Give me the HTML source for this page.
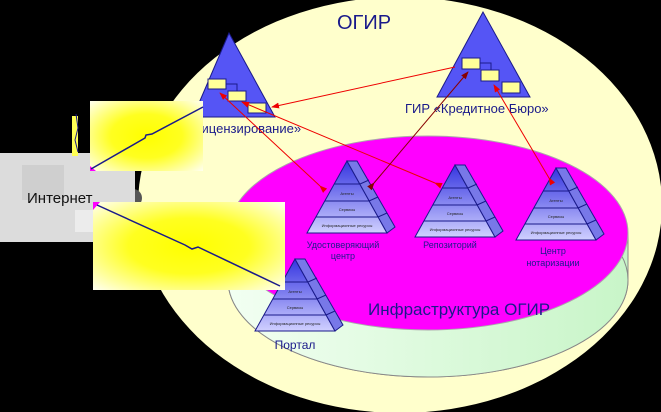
<!DOCTYPE html>
<html><head><meta charset="utf-8"><style>
html,body{margin:0;padding:0;background:#000;width:661px;height:412px;overflow:hidden}
svg{display:block}
text{font-family:"Liberation Sans",sans-serif}
</style></head><body>
<svg width="661" height="412" viewBox="0 0 661 412" xmlns="http://www.w3.org/2000/svg">
<defs>
<linearGradient id="cyl" x1="0" y1="0" x2="1" y2="0">
<stop offset="0" stop-color="#f2fff2"/><stop offset="1" stop-color="#c8f5c8"/></linearGradient>
<radialGradient id="yel" cx="0.5" cy="0.5" r="0.7">
<stop offset="0" stop-color="#ffff00"/><stop offset="0.45" stop-color="#ffff20"/><stop offset="1" stop-color="#ffffee"/></radialGradient>
<linearGradient id="pyr" x1="0" y1="0" x2="0" y2="1">
<stop offset="0" stop-color="#3535e0"/><stop offset="1" stop-color="#d0d0ff"/></linearGradient>
<g id="pyramid">
<polygon points="0,0 -40,72 40,72" fill="url(#pyr)" stroke="#1a1a8a" stroke-width="1"/>
<polygon points="0,0 40,72 48,66 10,0" fill="#7878e8" stroke="#1a1a8a" stroke-width="1"/>
<line x1="-13" y1="23" x2="13" y2="23" stroke="#1a1a8a"/>
<line x1="-22" y1="40" x2="22" y2="40" stroke="#1a1a8a"/>
<line x1="-31" y1="56" x2="31" y2="56" stroke="#1a1a8a"/>
<line x1="13" y1="23" x2="22" y2="19" stroke="#1a1a8a"/>
<line x1="22" y1="40" x2="31" y2="36" stroke="#1a1a8a"/>
<line x1="31" y1="56" x2="40" y2="52" stroke="#1a1a8a"/>
<text x="0" y="34" font-size="4" text-anchor="middle" fill="#222">Агенты</text>
<text x="0" y="50" font-size="4" text-anchor="middle" fill="#222">Сервисы</text>
<text x="0" y="66" font-size="4" text-anchor="middle" fill="#222">Информационные ресурсы</text>
</g>
<marker id="ar" markerWidth="8" markerHeight="8" refX="7" refY="4" orient="auto"><path d="M0,1 L8,4 L0,7z" fill="#e00"/></marker>
<marker id="ad" markerWidth="8" markerHeight="8" refX="7" refY="4" orient="auto"><path d="M0,1 L8,4 L0,7z" fill="#800"/></marker>
</defs>
<rect width="661" height="412" fill="#000"/>
<ellipse cx="400" cy="205" rx="262" ry="208" fill="#ffffcc"/>
<path d="M228,233 L228,280 A200,97 0 0 0 628,280 L628,233 Z" fill="url(#cyl)" stroke="#888" stroke-width="1"/>
<ellipse cx="428" cy="280" rx="200" ry="97" fill="url(#cyl)" stroke="#888"/>
<ellipse cx="428" cy="233" rx="200" ry="97" fill="#ff00ff" stroke="#aaa"/>
<text x="337" y="29" font-size="20" fill="#1a1a8a">ОГИР</text>
<polygon points="229,33 193,117 275,117" fill="#5555f5" stroke="#1a1a8a"/>
<g fill="#ffff99" stroke="#1a1a8a"><rect x="208" y="79" width="18" height="10"/><rect x="228" y="91" width="18" height="10"/><rect x="248" y="103" width="18" height="10"/></g>
<polyline points="226,84 237,84 237,91 M246,96 257,96 257,103" fill="none" stroke="#1a1a8a"/>
<polygon points="483,12 437,97 530,97" fill="#5555f5" stroke="#1a1a8a"/>
<g fill="#ffff99" stroke="#1a1a8a"><rect x="462" y="58" width="18" height="11"/><rect x="481" y="70" width="18" height="11"/><rect x="502" y="82" width="18" height="11"/></g>
<polyline points="480,63 491,63 491,70 M499,75 510,75 510,82" fill="none" stroke="#1a1a8a"/>
<text x="405" y="113" font-size="13" fill="#1a1a8a">ГИР «Кредитное Бюро»</text>
<text x="193" y="133" font-size="13" fill="#1a1a8a">Лицензирование»</text>
<use href="#pyramid" x="347" y="161"/>
<use href="#pyramid" x="455" y="165"/>
<use href="#pyramid" x="556" y="168"/>
<use href="#pyramid" x="295" y="259"/>
<g font-size="9" fill="#1a1a8a" text-anchor="middle">
<text x="343" y="248">Удостоверяющий</text><text x="343" y="259">центр</text>
<text x="450" y="248">Репозиторий</text>
<text x="553" y="254">Центр</text><text x="553" y="266">нотаризации</text>
</g>
<text x="295" y="349" font-size="12" fill="#1a1a8a" text-anchor="middle">Портал</text>
<text x="368" y="315" font-size="17" fill="#1a1a8a">Инфраструктура ОГИР</text>
<g stroke="#e00" stroke-width="1" fill="none">
<line x1="455" y1="67" x2="272" y2="107" marker-end="url(#ar)"/>
<line x1="320" y1="186" x2="220" y2="93" marker-end="url(#ar)" marker-start="url(#ar)"/>
<line x1="435" y1="183" x2="242" y2="102" marker-end="url(#ar)" marker-start="url(#ar)"/>
<line x1="549" y1="178" x2="494" y2="85" marker-end="url(#ar)" marker-start="url(#ar)"/>
</g>
<line x1="374" y1="183" x2="468" y2="72" stroke="#800" marker-end="url(#ad)" marker-start="url(#ad)"/>
<circle cx="65" cy="222" r="20" fill="#555"/>
<circle cx="133" cy="198" r="9" fill="#555"/>
<rect x="0" y="153" width="135" height="89" fill="#dcdcdc"/>
<rect x="22" y="165" width="42" height="35" fill="#cfcfcf"/>
<rect x="75" y="210" width="20" height="22" fill="#ececec"/>
<text x="27" y="203" font-size="15" fill="#111">Интернет</text>
<rect x="72" y="116" width="6" height="40" fill="#ffff55"/>
<rect x="90" y="101" width="113" height="70" fill="url(#yel)"/>
<rect x="93" y="202" width="192" height="88" fill="url(#yel)"/>
<polygon points="90,166 90,171 96,171" fill="#f0f"/>
<polygon points="93,202 93,210 100,202" fill="#f0f"/>
<polyline points="91,169 145,138 146,135 152,134 203,107" fill="none" stroke="#1a1a8a" stroke-width="1.5"/>
<polyline points="97,205 185,245 192,249 198,247 280,286" fill="none" stroke="#1a1a8a" stroke-width="1.5"/>
<polyline points="76,114 78,128 75,140 78,152" fill="none" stroke="#1a1a8a"/>
</svg>
</body></html>
